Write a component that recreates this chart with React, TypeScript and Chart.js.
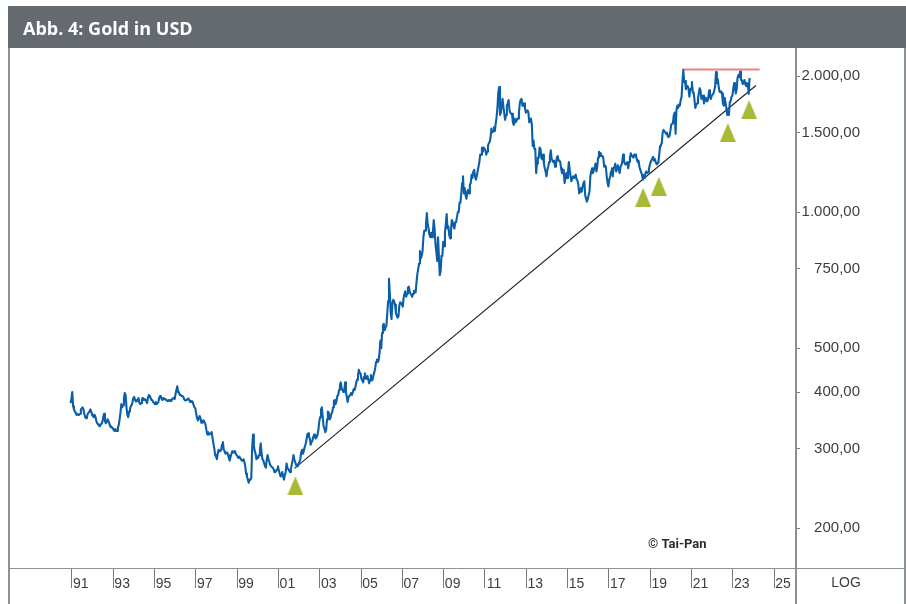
import React, { useEffect, useRef } from 'react';
import { Chart, registerables } from 'chart.js';

Chart.register(...registerables);

const AXIS_FONT = "'Liberation Sans', Arial, sans-serif";
const TITLE_FONT = "bold 18px 'Open Sans', 'Noto Sans', sans-serif";

const chartTitle = 'Abb. 4: Gold in USD';
const sourceText = '© Tai-Pan';
const scaleText = 'LOG';

// x-axis tick years and y-axis tick values
const xTickYears = [1991, 1993, 1995, 1997, 1999, 2001, 2003, 2005, 2007, 2009, 2011, 2013, 2015, 2017, 2019, 2021, 2023, 2025];
const yTickValues = [200, 300, 400, 500, 750, 1000, 1500, 2000];

// Gold price in USD, two readings per month (first / second half)
const gold1990 = [378, 386]; // December only
const gold1991 = [400, 372, 366, 362, 360, 356, 358, 356, 356, 358, 366, 368, 370, 366, 358, 352, 350, 352, 358, 360, 362, 366, 362, 356];
const gold1992 = [354, 352, 356, 352, 345, 341, 339, 337, 336, 339, 340, 344, 352, 358, 345, 341, 344, 348, 345, 341, 336, 334, 334, 333];
const gold1993 = [330, 328, 331, 328, 328, 333, 338, 348, 360, 376, 370, 374, 386, 398, 394, 370, 356, 352, 362, 366, 372, 374, 380, 388];
const gold1994 = [390, 384, 381, 382, 384, 388, 378, 376, 378, 386, 388, 384, 386, 384, 382, 378, 390, 394, 392, 388, 384, 384, 380, 378];
const gold1995 = [376, 380, 376, 378, 380, 388, 392, 390, 386, 384, 388, 386, 386, 384, 384, 382, 384, 382, 384, 382, 386, 386, 388, 386];
const gold1996 = [396, 404, 412, 400, 398, 394, 394, 392, 392, 390, 386, 383, 383, 384, 386, 387, 384, 380, 382, 380, 380, 374, 370, 368];
const gold1997 = [358, 350, 346, 350, 354, 350, 342, 342, 346, 344, 342, 338, 328, 322, 326, 322, 322, 324, 326, 316, 308, 300, 290, 288];
const gold1998 = [284, 292, 298, 296, 296, 298, 306, 310, 298, 296, 292, 294, 294, 290, 286, 282, 288, 292, 296, 294, 294, 296, 292, 290];
const gold1999 = [288, 286, 288, 286, 286, 282, 282, 284, 280, 274, 264, 260, 256, 252, 256, 256, 258, 300, 322, 304, 296, 292, 284, 288];
const gold2000 = [286, 290, 298, 308, 292, 284, 282, 278, 274, 272, 284, 290, 284, 280, 276, 274, 274, 272, 270, 266, 266, 268, 270, 274];
const gold2001 = [268, 264, 260, 262, 266, 260, 256, 262, 266, 278, 272, 270, 268, 266, 270, 276, 282, 290, 284, 280, 276, 274, 274, 278];
const gold2002 = [280, 284, 294, 298, 292, 296, 302, 306, 312, 322, 324, 318, 316, 306, 310, 312, 318, 322, 318, 316, 318, 322, 330, 344];
const gold2003 = [352, 366, 370, 352, 336, 332, 326, 330, 348, 362, 360, 348, 350, 358, 360, 370, 382, 384, 376, 382, 392, 394, 404, 414];
const gold2004 = [420, 408, 404, 400, 400, 420, 400, 390, 380, 390, 392, 394, 398, 394, 400, 406, 404, 410, 420, 426, 436, 448, 440, 440];
const gold2005 = [428, 424, 420, 432, 440, 428, 428, 434, 426, 418, 426, 436, 424, 426, 436, 442, 452, 466, 472, 466, 470, 488, 520, 500];
const gold2006 = [540, 562, 566, 548, 556, 560, 596, 636, 712, 660, 600, 580, 630, 640, 634, 624, 600, 590, 584, 588, 620, 632, 628, 626];
const gold2007 = [618, 646, 660, 668, 650, 660, 680, 684, 670, 660, 656, 650, 660, 670, 668, 664, 700, 730, 750, 770, 820, 790, 800, 820];
const gold2008 = [880, 910, 910, 940, 995, 940, 920, 890, 880, 900, 880, 900, 960, 920, 850, 820, 780, 880, 880, 725, 740, 800, 800, 860];
const gold2009 = [840, 900, 940, 990, 920, 930, 890, 875, 910, 960, 950, 930, 920, 950, 950, 950, 1000, 1000, 1050, 1050, 1100, 1160, 1200, 1100];
const gold2010 = [1130, 1090, 1070, 1110, 1120, 1100, 1150, 1160, 1210, 1190, 1230, 1240, 1200, 1180, 1200, 1230, 1260, 1290, 1340, 1340, 1390, 1360, 1390, 1380];
const gold2011 = [1370, 1340, 1360, 1400, 1420, 1430, 1460, 1530, 1500, 1510, 1540, 1510, 1570, 1620, 1700, 1840, 1890, 1640, 1660, 1720, 1780, 1710, 1650, 1600];
const gold2012 = [1640, 1720, 1740, 1770, 1680, 1660, 1650, 1650, 1580, 1560, 1610, 1580, 1590, 1610, 1610, 1660, 1740, 1770, 1780, 1720, 1720, 1740, 1700, 1660];
const gold2013 = [1670, 1680, 1660, 1580, 1600, 1610, 1560, 1400, 1440, 1380, 1380, 1220, 1280, 1320, 1320, 1390, 1380, 1320, 1310, 1340, 1280, 1250, 1230, 1200];
const gold2014 = [1240, 1260, 1290, 1330, 1370, 1310, 1300, 1290, 1300, 1260, 1270, 1320, 1330, 1300, 1300, 1290, 1250, 1220, 1220, 1240, 1160, 1190, 1220, 1190];
const gold2015 = [1230, 1290, 1240, 1200, 1170, 1190, 1200, 1190, 1190, 1210, 1180, 1175, 1150, 1100, 1110, 1130, 1110, 1140, 1160, 1170, 1090, 1070, 1055, 1070];
const gold2016 = [1090, 1110, 1200, 1230, 1250, 1220, 1240, 1250, 1280, 1230, 1260, 1320, 1360, 1330, 1350, 1330, 1330, 1320, 1260, 1270, 1260, 1200, 1160, 1140];
const gold2017 = [1180, 1200, 1230, 1250, 1200, 1250, 1260, 1280, 1230, 1260, 1270, 1240, 1220, 1260, 1270, 1290, 1340, 1300, 1280, 1275, 1280, 1290, 1250, 1290];
const gold2018 = [1320, 1350, 1330, 1330, 1320, 1340, 1340, 1330, 1310, 1290, 1300, 1260, 1240, 1225, 1210, 1180, 1200, 1190, 1220, 1230, 1220, 1225, 1245, 1270];
const gold2019 = [1290, 1300, 1315, 1325, 1300, 1310, 1290, 1275, 1285, 1285, 1340, 1400, 1410, 1420, 1500, 1520, 1510, 1500, 1490, 1500, 1470, 1465, 1475, 1515];
const gold2020 = [1560, 1570, 1580, 1640, 1660, 1490, 1680, 1720, 1700, 1730, 1720, 1770, 1800, 1950, 2062, 1940, 1950, 1870, 1900, 1900, 1880, 1800, 1860, 1880];
const gold2021 = [1940, 1840, 1840, 1770, 1700, 1730, 1740, 1780, 1830, 1880, 1860, 1780, 1800, 1810, 1740, 1790, 1790, 1760, 1760, 1790, 1860, 1800, 1780, 1810];
const gold2022 = [1820, 1830, 1860, 1900, 2040, 1930, 1970, 1900, 1850, 1840, 1850, 1830, 1740, 1720, 1790, 1750, 1700, 1640, 1670, 1640, 1750, 1760, 1800, 1810];
const gold2023 = [1870, 1930, 1880, 1830, 1870, 1980, 2010, 1990, 2045, 1960, 1960, 1920, 1930, 1960, 1920, 1900, 1930, 1920, 1825, 1980]; // to October

// Trend line (support) and resistance line: [year, price]
const trendYears = [2001.78, 2024.12];
const trendValues = [271, 1906];
const resistanceYears = [2020.55, 2024.3];
const resistanceValues = [2067, 2067];

// Green support markers
const markerYears = [2001.82, 2018.66, 2019.42, 2022.76, 2023.79];
const markerValues = [248, 1078, 1140, 1500, 1685];

const X_MIN = 1988.006;
const X_MAX = 2026.06;
const Y_MIN = 163.2;
const Y_MAX = 2307;

const BLUE = '#0b5ea8';
const FRAME = '#8d9095';

const goldByYear: [number, number, number[]][] = [
  [1990, 11, gold1990], [1991, 0, gold1991], [1992, 0, gold1992], [1993, 0, gold1993],
  [1994, 0, gold1994], [1995, 0, gold1995], [1996, 0, gold1996], [1997, 0, gold1997],
  [1998, 0, gold1998], [1999, 0, gold1999], [2000, 0, gold2000], [2001, 0, gold2001],
  [2002, 0, gold2002], [2003, 0, gold2003], [2004, 0, gold2004], [2005, 0, gold2005],
  [2006, 0, gold2006], [2007, 0, gold2007], [2008, 0, gold2008], [2009, 0, gold2009],
  [2010, 0, gold2010], [2011, 0, gold2011], [2012, 0, gold2012], [2013, 0, gold2013],
  [2014, 0, gold2014], [2015, 0, gold2015], [2016, 0, gold2016], [2017, 0, gold2017],
  [2018, 0, gold2018], [2019, 0, gold2019], [2020, 0, gold2020], [2021, 0, gold2021],
  [2022, 0, gold2022], [2023, 0, gold2023],
];

function formatDE(v: number): string {
  const s = v.toFixed(2);
  const [i, d] = s.split('.');
  return i.replace(/\B(?=(\d{3})+(?!\d))/g, '.') + ',' + d;
}

function makeTriangle(): HTMLCanvasElement {
  const c = document.createElement('canvas');
  c.width = 16;
  c.height = 19;
  const ctx = c.getContext('2d')!;
  ctx.fillStyle = '#a7b935';
  ctx.beginPath();
  ctx.moveTo(8, 0);
  ctx.lineTo(16, 19);
  ctx.lineTo(0, 19);
  ctx.closePath();
  ctx.fill();
  return c;
}

const framePlugin = {
  id: 'frame',
  beforeDraw(chart: any) {
    const ctx = chart.ctx as CanvasRenderingContext2D;
    const W = chart.width;
    const H = chart.height;
    ctx.save();
    ctx.fillStyle = '#ffffff';
    ctx.fillRect(0, 0, W, H);
    ctx.fillStyle = '#646a70';
    ctx.fillRect(8, 6, W - 8, 42);
    ctx.fillStyle = '#ffffff';
    ctx.font = TITLE_FONT;
    ctx.textBaseline = 'alphabetic';
    ctx.textAlign = 'left';
    ctx.fillText(chartTitle, 23, 35);
    ctx.restore();
  },
  afterDraw(chart: any) {
    const ctx = chart.ctx as CanvasRenderingContext2D;
    const a = chart.chartArea;
    const H = chart.height;
    ctx.save();
    ctx.strokeStyle = FRAME;
    ctx.lineWidth = 2;
    ctx.beginPath();
    ctx.moveTo(9, a.top);
    ctx.lineTo(9, H);
    ctx.stroke();
    ctx.beginPath();
    ctx.moveTo(905, a.top);
    ctx.lineTo(905, H);
    ctx.stroke();
    ctx.beginPath();
    ctx.moveTo(a.right, a.top);
    ctx.lineTo(a.right, H);
    ctx.stroke();
    ctx.lineWidth = 1;
    ctx.beginPath();
    ctx.moveTo(8, a.bottom + 0.5);
    ctx.lineTo(905, a.bottom + 0.5);
    ctx.stroke();
    ctx.fillStyle = '#3d3d3d';
    ctx.font = `14px ${AXIS_FONT}`;
    ctx.textAlign = 'center';
    ctx.textBaseline = 'middle';
    ctx.fillText(scaleText, 846, 583);
    ctx.fillStyle = '#2b2b2b';
    ctx.font = "bold 13px 'Roboto', 'Liberation Sans', sans-serif";
    ctx.textAlign = 'left';
    ctx.fillText(sourceText, 648, 545);
    ctx.restore();
  },
};

export default function App() {
  const ref = useRef<HTMLCanvasElement | null>(null);

  useEffect(() => {
    if (!ref.current) return;
    const goldPoints = goldByYear.flatMap(([yr, m0, vals]) =>
      vals.map((v, k) => ({ x: yr + (m0 * 2 + k) / 24 + 1 / 48, y: v }))
    );
    const trendPoints = trendYears.map((x, i) => ({ x, y: trendValues[i] }));
    const resPoints = resistanceYears.map((x, i) => ({ x, y: resistanceValues[i] }));
    const markerPoints = markerYears.map((x, i) => ({ x, y: markerValues[i] }));
    const tri = makeTriangle();

    const chart = new Chart(ref.current, {
      type: 'line',
      data: {
        datasets: [
          {
            label: 'markers',
            data: markerPoints,
            showLine: false,
            pointStyle: tri as any,
            pointRadius: 10,
            pointBorderWidth: 0,
            order: 0,
          } as any,
          {
            label: 'Gold',
            data: goldPoints,
            borderColor: BLUE,
            borderWidth: 2.1,
            borderJoinStyle: 'round',
            pointRadius: 0,
            tension: 0,
            order: 1,
          },
          {
            label: 'trend',
            data: trendPoints,
            borderColor: '#1e1e1e',
            borderWidth: 1.1,
            pointRadius: 0,
            order: 2,
          },
          {
            label: 'resistance',
            data: resPoints,
            borderColor: '#f08282',
            borderWidth: 2,
            pointRadius: 0,
            order: 3,
          },
        ],
      },
      options: {
        animation: false,
        responsive: false,
        events: [],
        layout: { padding: { left: 8, top: 48, right: 46, bottom: 0 } },
        plugins: { legend: { display: false }, tooltip: { enabled: false } },
        scales: {
          x: {
            type: 'linear',
            position: 'bottom',
            min: X_MIN,
            max: X_MAX,
            afterBuildTicks: (s: any) => {
              s.ticks = xTickYears.map((v) => ({ value: v }));
            },
            afterFit: (s: any) => {
              s.height = 36;
              s.paddingLeft = 0;
              s.paddingRight = 0;
            },
            grid: { drawOnChartArea: false, drawTicks: true, tickLength: 20, color: '#7a7a7a', lineWidth: 1 },
            border: { display: false },
            ticks: {
              autoSkip: false,
              maxRotation: 0,
              font: { family: AXIS_FONT, size: 14 },
              color: '#3d3d3d',
              labelOffset: 9,
              padding: -12,
              callback: (v: any) => String(Number(v) % 100).padStart(2, '0'),
            },
          },
          y: {
            type: 'logarithmic',
            position: 'right',
            min: Y_MIN,
            max: Y_MAX,
            afterBuildTicks: (s: any) => {
              s.ticks = yTickValues.map((v) => ({ value: v }));
            },
            afterFit: (s: any) => {
              s.width = 64;
              s.paddingTop = 0;
              s.paddingBottom = 0;
            },
            grid: { drawOnChartArea: false, drawTicks: true, tickLength: 4, color: '#7a7a7a', lineWidth: 1 },
            border: { display: false },
            ticks: {
              autoSkip: false,
              font: { family: AXIS_FONT, size: 15 },
              color: '#3d3d3d',
              padding: 2,
              crossAlign: 'far',
              callback: (v: any) => formatDE(Number(v)),
            },
          },
        },
      },
      plugins: [framePlugin],
    });
    return () => chart.destroy();
  }, []);

  return (
    <div style={{ position: 'absolute', left: 0, top: 0, width: 906, height: 604 }}>
      <canvas ref={ref} width={906} height={604} style={{ display: 'block', width: 906, height: 604 }} />
    </div>
  );
}
